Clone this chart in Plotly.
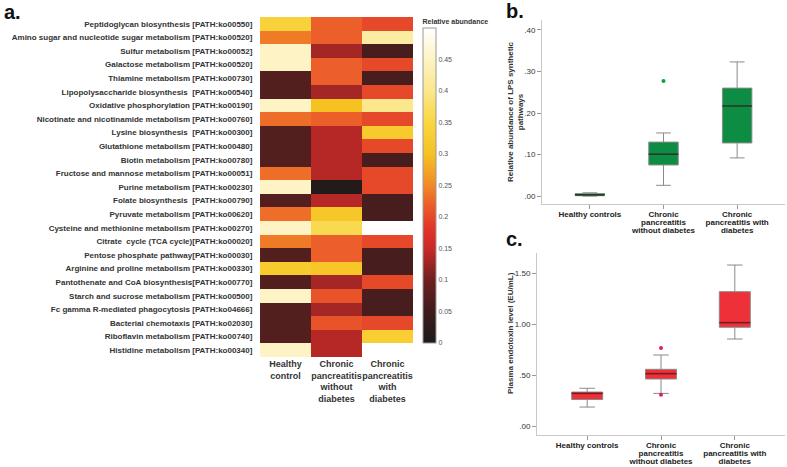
import plotly.graph_objects as go

# ---------------- data ----------------
pathways = [
    "Peptidoglycan biosynthesis [PATH:ko00550]",
    "Amino sugar and nucleotide sugar metabolism [PATH:ko00520]",
    "Sulfur metabolism [PATH:ko00052]",
    "Galactose metabolism [PATH:ko00520]",
    "Thiamine metabolism [PATH:ko00730]",
    "Lipopolysaccharide biosynthesis  [PATH:ko00540]",
    "Oxidative phosphorylation [PATH:ko00190]",
    "Nicotinate and nicotinamide metabolism [PATH:ko00760]",
    "Lysine biosynthesis  [PATH:ko00300]",
    "Glutathione metabolism [PATH:ko00480]",
    "Biotin metabolism [PATH:ko00780]",
    "Fructose and mannose metabolism [PATH:ko00051]",
    "Purine metabolism [PATH:ko00230]",
    "Folate biosynthesis  [PATH:ko00790]",
    "Pyruvate metabolism [PATH:ko00620]",
    "Cysteine and methionine metabolism [PATH:ko00270]",
    "Citrate  cycle (TCA cycle)[PATH:ko00020]",
    "Pentose phosphate pathway[PATH:ko00030]",
    "Arginine and proline metabolism [PATH:ko00330]",
    "Pantothenate and CoA biosynthesis[PATH:ko00770]",
    "Starch and sucrose metabolism [PATH:ko00500]",
    "Fc gamma R-mediated phagocytosis [PATH:ko04666]",
    "Bacterial chemotaxis [PATH:ko02030]",
    "Riboflavin metabolism [PATH:ko00740]",
    "Histidine metabolism [PATH:ko00340]",
]
heat_groups = ["Healthy<br>control", "Chronic<br>pancreatitis<br>without<br>diabetes",
               "Chronic<br>pancreatitis<br>with<br>diabetes"]
healthy = [0.34, 0.24, 0.45, 0.45, 0.07, 0.07, 0.45, 0.23, 0.07, 0.07, 0.07, 0.23, 0.45,
           0.07, 0.23, 0.45, 0.24, 0.07, 0.32, 0.07, 0.45, 0.07, 0.07, 0.07, 0.45]
cp_no_dm = [0.22, 0.22, 0.13, 0.22, 0.22, 0.13, 0.30, 0.22, 0.14, 0.14, 0.14, 0.14, 0.01,
            0.14, 0.31, 0.36, 0.22, 0.22, 0.31, 0.13, 0.21, 0.13, 0.21, 0.14, 0.14]
cp_dm = [0.20, 0.42, 0.06, 0.20, 0.06, 0.20, 0.40, 0.20, 0.32, 0.20, 0.06, 0.20, 0.20,
         0.06, 0.06, None, 0.20, 0.06, 0.06, 0.20, 0.06, 0.06, 0.20, 0.33, None]
cbar_ticks = [0, 0.05, 0.1, 0.15, 0.2, 0.25, 0.3, 0.35, 0.4, 0.45]
cbar_text = ["0", "0.05", "0.1", "0.15", "0.2", "0.25", "0.3", "0.35", "0.4", "0.45"]

box_groups = [["Healthy controls"], ["Chronic", "pancreatitis", "without diabetes"],
              ["Chronic", "pancreatitis with", "diabetes"]]
# panel b: relative abundance of LPS synthetic pathways
b_q1 = [0.001, 0.075, 0.128]
b_med = [0.003, 0.101, 0.217]
b_q3 = [0.006, 0.130, 0.260]
b_lo = [0.000, 0.026, 0.092]
b_hi = [0.008, 0.152, 0.323]
b_out_x = [1]
b_out_y = [0.277]
b_ticks = [0.0, 0.1, 0.2, 0.3, 0.4]
b_ticktext = [".00", ".10", ".20", ".30", ".40"]
# panel c: plasma endotoxin level
c_q1 = [0.26, 0.461, 0.968]
c_med = [0.32, 0.513, 1.013]
c_q3 = [0.333, 0.556, 1.317]
c_lo = [0.186, 0.32, 0.853]
c_hi = [0.37, 0.696, 1.578]
c_out_x = [1, 1]
c_out_y = [0.765, 0.307]
c_ticks = [0.0, 0.5, 1.0, 1.5]
c_ticktext = [".00", ".50", "1.00", "1.50"]

# ---------------- figure ----------------
W, H = 787, 467
def px(x):
    return x / W
def py(y):
    return 1 - y / H

colorscale = [
    [0.0, "#1c1a1a"], [0.1, "#3f1c1c"], [0.2, "#6e2020"], [0.3, "#c82a28"],
    [0.36, "#e03229"], [0.44, "#ec5e2a"], [0.5, "#f08a26"], [0.6, "#f6c222"],
    [0.7, "#f9d640"], [0.8, "#fbe78c"], [0.9, "#fdf3c4"], [1.0, "#ffffff"],
]

z = [[healthy[i], cp_no_dm[i], cp_dm[i]] for i in range(len(pathways))]

sans = "Liberation Sans, Arial, sans-serif"

def box_label(lines):
    return "<br>".join('<span style="font-size:8px"><b>%s</b></span>' % l for l in lines)

fig = go.Figure()
fig.add_trace(go.Heatmap(
    z=z, x=list(range(3)), y=list(range(len(pathways))),
    zmin=0, zmax=0.5, colorscale=colorscale, hoverongaps=False,
    xaxis="x", yaxis="y",
    colorbar=dict(
        x=px(423), xanchor="left", y=py(179.5), yanchor="middle",
        thickness=13, len=327, lenmode="pixels",
        tickvals=cbar_ticks, ticktext=cbar_text, ticks="",
        tickfont=dict(size=7, color="#555", family=sans),
        outlinewidth=1, outlinecolor="#999",
        title=dict(text="<b>Relative abundance</b>", side="top",
                   font=dict(size=7, color="#333", family=sans)),
        ypad=0, xpad=0,
    ),
))

# panel b boxes
fig.add_trace(go.Box(
    x=list(range(3)), q1=b_q1, median=b_med, q3=b_q3, lowerfence=b_lo, upperfence=b_hi,
    width=0.4, whiskerwidth=0.5, fillcolor="#0d8c43", line=dict(color="#8a8a8a", width=1),
    boxpoints=False, xaxis="x2", yaxis="y2", showlegend=False, hoverinfo="skip",
))
mx, my = [], []
for i, m in enumerate(b_med):
    mx += [i - 0.2, i + 0.2, None]
    my += [m, m, None]
fig.add_trace(go.Scatter(x=mx, y=my, mode="lines", line=dict(color="#163a22", width=1.6),
                         xaxis="x2", yaxis="y2", showlegend=False, hoverinfo="skip"))
fig.add_trace(go.Scatter(x=b_out_x, y=b_out_y, mode="markers",
                         marker=dict(color="#0d9c48", size=4), xaxis="x2", yaxis="y2",
                         showlegend=False))

# panel c boxes
fig.add_trace(go.Box(
    x=list(range(3)), q1=c_q1, median=c_med, q3=c_q3, lowerfence=c_lo, upperfence=c_hi,
    width=0.42, whiskerwidth=0.5, fillcolor="#ee3038", line=dict(color="#8a8a8a", width=1),
    boxpoints=False, xaxis="x3", yaxis="y3", showlegend=False, hoverinfo="skip",
))
mx, my = [], []
for i, m in enumerate(c_med):
    mx += [i - 0.21, i + 0.21, None]
    my += [m, m, None]
fig.add_trace(go.Scatter(x=mx, y=my, mode="lines", line=dict(color="#7a1a1e", width=1.6),
                         xaxis="x3", yaxis="y3", showlegend=False, hoverinfo="skip"))
fig.add_trace(go.Scatter(x=c_out_x, y=c_out_y, mode="markers",
                         marker=dict(color="#d8245a", size=4), xaxis="x3", yaxis="y3",
                         showlegend=False))

axis_box_x = dict(showline=True, linecolor="#c8c8c8", linewidth=1, showgrid=False,
                  zeroline=False, ticks="outside", ticklen=4, tickcolor="#999",
                  tickangle=0, automargin=False,
                  tickvals=list(range(3)), ticktext=[box_label(g) for g in box_groups],
                  tickfont=dict(size=6.3, color="#222", family=sans))
axis_box_y = dict(showline=True, linecolor="#c8c8c8", linewidth=1, showgrid=False,
                  zeroline=False, ticks="outside", ticklen=4, tickcolor="#999",
                  automargin=False,
                  tickfont=dict(size=8, color="#333", family=sans))

fig.update_layout(
    width=W, height=H, margin=dict(l=0, r=0, t=0, b=0, autoexpand=False),
    paper_bgcolor="white", plot_bgcolor="white", showlegend=False,
    xaxis=dict(domain=[px(260), px(413)], range=[-0.5, 2.5], showgrid=False, zeroline=False,
               tickvals=list(range(3)), ticktext=["<b>%s</b>" % g for g in heat_groups],
               tickfont=dict(size=9, color="#333", family=sans), ticks="", side="bottom",
               tickangle=0, automargin=False),
    yaxis=dict(domain=[py(357), py(17)], range=[len(pathways) - 0.5, -0.5], showgrid=False,
               zeroline=False, tickvals=list(range(len(pathways))),
               ticktext=["<b>%s</b>" % p for p in pathways],
               tickfont=dict(size=8, color="#333", family=sans),
               ticks="outside", ticklen=5, tickcolor="rgba(0,0,0,0)", automargin=False),
    xaxis2=dict(domain=[px(542), px(785)], range=[-0.65, 2.65], anchor="y2", **axis_box_x),
    yaxis2=dict(domain=[py(204), py(20)], range=[-0.019, 0.424], anchor="x2",
                tickvals=b_ticks, ticktext=b_ticktext, **axis_box_y),
    xaxis3=dict(domain=[px(537), px(785)], range=[-0.68, 2.68], anchor="y3", **axis_box_x),
    yaxis3=dict(domain=[py(435), py(253)], range=[-0.088, 1.696], anchor="x3",
                tickvals=c_ticks, ticktext=c_ticktext, **axis_box_y),
    annotations=[
        dict(text="<b>a.</b>", x=px(2), y=py(12), xref="paper", yref="paper",
             xanchor="left", yanchor="middle", showarrow=False,
             font=dict(size=20, color="#111", family=sans)),
        dict(text="<b>b.</b>", x=px(504), y=py(11), xref="paper", yref="paper",
             xanchor="left", yanchor="middle", showarrow=False,
             font=dict(size=20, color="#111", family=sans)),
        dict(text="<b>c.</b>", x=px(504), y=py(239), xref="paper", yref="paper",
             xanchor="left", yanchor="middle", showarrow=False,
             font=dict(size=20, color="#111", family=sans)),
        dict(text="<b>Relative abundance of LPS synthetic<br>pathways</b>",
             x=px(515), y=py(112), xref="paper", yref="paper", textangle=-90,
             xanchor="center", yanchor="middle", showarrow=False,
             font=dict(size=8, color="#333", family=sans)),
        dict(text="<b>Plasma endotoxin level (EU/mL)</b>",
             x=px(510), y=py(333), xref="paper", yref="paper", textangle=-90,
             xanchor="center", yanchor="middle", showarrow=False,
             font=dict(size=8, color="#333", family=sans)),
    ],
)

fig.write_html("out.html", config={"displayModeBar": False},
               post_script="document.body.style.margin='0';")
